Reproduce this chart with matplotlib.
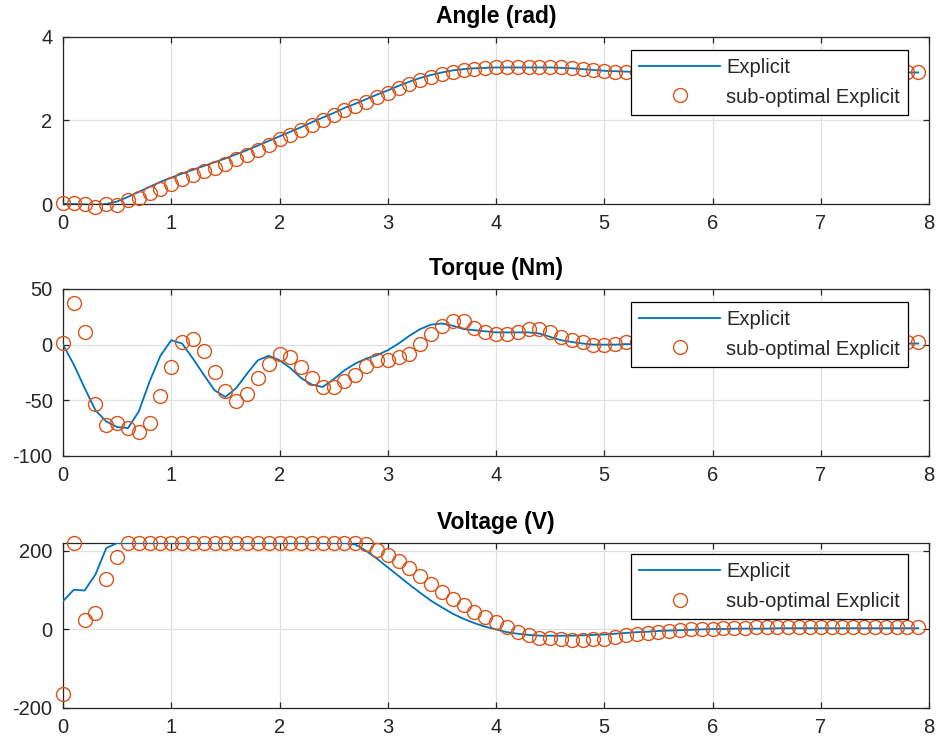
"""Angle / couple / tension : commande explicite vs explicite sous-optimale."""

import matplotlib
matplotlib.use("Agg")
import matplotlib.pyplot as plt
import numpy as np

plt.rcParams["font.family"] = ["Liberation Sans", "DejaVu Sans"]
plt.rcParams["axes.unicode_minus"] = False

BLUE = "#0072BD"
ORANGE = "#D95319"
AX_COLOR = "#262626"

# temps d'echantillonnage 0.1 s, 80 points
t = np.arange(80) * 0.1

angle_explicit = [
    0.00, 0.00, -0.01, -0.02, 0.00, 0.06, 0.17, 0.29, 0.41, 0.53,
    0.63, 0.73, 0.82, 0.91, 1.00, 1.09, 1.19, 1.29, 1.40, 1.51,
    1.62, 1.73, 1.84, 1.96, 2.07, 2.18, 2.30, 2.40, 2.51, 2.62,
    2.72, 2.83, 2.93, 3.02, 3.09, 3.15, 3.20, 3.23, 3.25, 3.26,
    3.27, 3.27, 3.27, 3.27, 3.27, 3.27, 3.26, 3.25, 3.23, 3.21,
    3.19, 3.18, 3.17, 3.16, 3.16, 3.15, 3.15, 3.15, 3.15, 3.15,
    3.15, 3.15, 3.15, 3.15, 3.15, 3.15, 3.15, 3.15, 3.15, 3.15,
    3.15, 3.15, 3.15, 3.15, 3.15, 3.15, 3.15, 3.15, 3.15, 3.15,
]
angle_subopt = [
    0.02, 0.02, 0.01, -0.06, 0.01, -0.02, 0.10, 0.14, 0.26, 0.36,
    0.48, 0.60, 0.69, 0.78, 0.87, 0.97, 1.07, 1.18, 1.30, 1.42,
    1.55, 1.66, 1.78, 1.90, 2.00, 2.12, 2.24, 2.34, 2.45, 2.56,
    2.66, 2.77, 2.87, 2.96, 3.04, 3.11, 3.17, 3.21, 3.24, 3.26,
    3.28, 3.29, 3.29, 3.29, 3.29, 3.29, 3.28, 3.26, 3.23, 3.20,
    3.18, 3.17, 3.16, 3.15, 3.15, 3.15, 3.15, 3.15, 3.15, 3.15,
    3.15, 3.15, 3.15, 3.15, 3.15, 3.15, 3.15, 3.15, 3.15, 3.15,
    3.15, 3.15, 3.15, 3.15, 3.15, 3.15, 3.15, 3.16, 3.16, 3.16,
]

torque_explicit = [
    0, -18, -39, -59, -69, -74, -75, -60, -33, -10,
    4, 1, -12.5, -27, -41, -47, -39, -26, -14, -10,
    -14, -21, -30, -36, -38, -31, -23, -17, -12.5, -9.5,
    -5, 1, 8, 14, 18, 19, 17, 14, 13, 12,
    11, 11, 11, 11, 10, 7, 4, 2.4, 1, 0,
    0, 0, 0.5, 0.5, 1, 1, 1, 1, 1, 1,
    1, 1, 1, 1, 1, 1, 1, 1, 1, 1,
    1, 1, 1, 1, 1, 1, 1, 1, 1, 1,
]
torque_subopt = [
    1.5, 37, 11, -53.5, -72, -70.5, -75, -78, -70, -46,
    -20, 2, 5, -6, -25, -42, -50.5, -44.5, -30, -17,
    -8, -11, -20, -30, -38, -38, -33, -27, -19, -14,
    -14, -11, -8, 1, 10, 17, 21, 21, 15, 11,
    10, 10, 11, 14, 14, 11, 7, 4, 2, 0,
    0, 1, 2, 2, 2, 2, 2, 2, 2, 2,
    2, 2, 2, 2, 2, 2, 2, 2, 2, 2,
    2, 2, 2, 2, 2, 2, 2, 2, 2, 2,
]

voltage_explicit = [
    72, 101, 99, 140, 207, 220, 220, 220, 220, 220,
    220, 220, 220, 220, 220, 220, 220, 220, 220, 220,
    220, 220, 220, 220, 220, 220, 220, 216, 200, 180,
    158, 136, 114, 93, 73, 56, 40, 27, 16, 7,
    0, -7, -11, -14, -16, -16, -16, -16, -15, -14,
    -13, -11, -9, -7, -6, -4, -3, -2, -1, 0,
    1, 1, 2, 2, 2, 2, 3, 3, 3, 3,
    3, 3, 3, 3, 3, 3, 3, 3, 3, 3,
]
voltage_subopt = [
    -165, 220, 24, 41, 129, 185, 220, 220, 220, 220,
    220, 220, 220, 220, 220, 220, 220, 220, 220, 220,
    220, 220, 220, 220, 220, 220, 220, 220, 218, 202,
    189, 173, 156, 136, 115, 96, 78, 61, 44, 31,
    18, 6, -7, -15, -21, -23, -25, -26, -26, -24,
    -24, -19, -15, -11, -8, -6, -4, -2, 0, 1,
    2, 3, 4, 4, 5, 5, 5, 5, 5, 5,
    5, 5, 5, 5, 5, 5, 5, 5, 5, 5,
]

panels = [
    ("Angle (rad)", angle_explicit, angle_subopt, (0, 4), [0, 2, 4], 0.922),
    ("Torque (Nm)", torque_explicit, torque_subopt, (-100, 50), [-100, -50, 0, 50], 0.922),
    ("Voltage (V)", voltage_explicit, voltage_subopt, (-200, 220), [-200, 0, 200], 0.933),
]
positions = [
    [0.0671, 0.7258, 0.9223, 0.2245],
    [0.0671, 0.3871, 0.9223, 0.2245],
    [0.0671, 0.0484, 0.9223, 0.2218],
]

fig = plt.figure(figsize=(9.39, 7.44), dpi=100)
for pos, (title, explicit, subopt, ylim, yticks, leg_top) in zip(positions, panels):
    ax = fig.add_axes(pos)
    ax.plot(t, explicit, color=BLUE, lw=1.3, label="Explicit", zorder=3)
    ax.plot(t, subopt, ls="none", marker="o", ms=10, mfc="none",
            mec=ORANGE, mew=1.0, label="sub-optimal Explicit",
            clip_on=False, zorder=4)
    ax.set_xlim(0, 8)
    ax.set_ylim(*ylim)
    ax.set_xticks(range(9))
    ax.set_yticks(yticks)
    ax.grid(True, color="#e0e0e0", lw=0.9)
    ax.set_axisbelow(True)
    ax.tick_params(direction="in", length=4, width=0.9, top=True, right=True,
                   labelsize=14.5, colors=AX_COLOR, pad=7.5)
    for spine in ax.spines.values():
        spine.set_color(AX_COLOR)
        spine.set_linewidth(0.9)
    ax.set_title(title, fontsize=16.5, fontweight="bold", color="#000000", pad=10)
    leg = ax.legend(loc="upper right", bbox_to_anchor=(0.976, leg_top),
                    borderaxespad=0, fontsize=14.5, handlelength=4.0,
                    handletextpad=0.3, labelspacing=0.5, borderpad=0.42,
                    fancybox=False, framealpha=1, edgecolor="#000000")
    leg.get_frame().set_linewidth(0.9)
    leg.set_zorder(10)
    for txt in leg.get_texts():
        txt.set_color(AX_COLOR)

fig.savefig("out.png", dpi=100)
